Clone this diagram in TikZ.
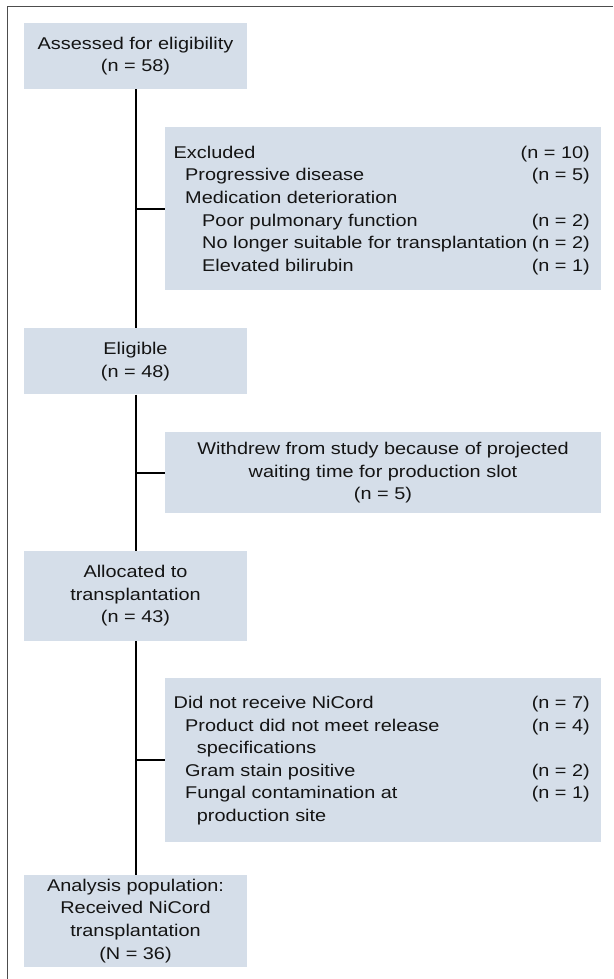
\documentclass[tikz,border=0pt]{standalone}
\usepackage{fontspec}
\setmainfont{Liberation Sans}[FakeStretch=1.17]
\definecolor{boxfill}{RGB}{213,222,233}
\definecolor{framegray}{RGB}{77,77,77}
\definecolor{txt}{RGB}{20,20,20}
\begin{document}
\begin{tikzpicture}[x=1pt,y=-1pt,
  every node/.style={text=txt},
  lbox/.style={fill=boxfill, inner sep=0pt, minimum width=223pt, align=center,
    font=\fontsize{17}{22.6}\selectfont},
  rbox/.style={fill=boxfill, inner sep=0pt, minimum width=436pt, align=center,
    font=\fontsize{17}{22.6}\selectfont},
  lt/.style={inner sep=0pt, anchor=base west, font=\fontsize{17}{22.6}\selectfont},
  rt/.style={inner sep=0pt, anchor=base east, font=\fontsize{17}{22.6}\selectfont},
  conn/.style={line width=2pt, black},
  frame/.style={line width=1.5pt, framegray}]
\useasboundingbox (0,0) rectangle (613,979);
% frame
\coordinate (fc) at (7.3,6.7);
\coordinate (fr) at (613,6.7);
\coordinate (fb) at (7.3,979);
\draw[frame] (fr) -- (fc) -- (fb);
% left column boxes
\node[lbox, minimum height=66.6pt] (a) at (135.5,56) {Assessed for eligibility\\(n = 58)};
\node[lbox, minimum height=66pt] (b) at (135.5,361.3) {Eligible\\(n = 48)};
\node[lbox, minimum height=89.7pt] (c) at (135.5,595.8) {Allocated to\\transplantation\\(n = 43)};
\node[lbox, minimum height=91.7pt] (d) at (135.5,920.8) {Analysis population:\\Received NiCord\\transplantation\\(N = 36)};
% right column boxes
\node[rbox, minimum height=163pt] (ex) at (383,208.8) {};
\node[rbox, minimum height=81pt] (wd) at (383,472.8) {Withdrew from study because of projected\\waiting time for production slot\\(n = 5)};
\node[rbox, minimum height=163.4pt] (nr) at (383,760) {};
% Excluded texts
\node[lt] (ex1) at (173.5,158.3) {Excluded};
\node[rt] (ex1n) at (590,158.3) {(n = 10)};
\node[lt] (ex2) at (185,180.9) {Progressive disease};
\node[rt] (ex2n) at (590,180.9) {(n = 5)};
\node[lt] (ex3) at (185,203.5) {Medication deterioration};
\node[lt] (ex4) at (202,226.1) {Poor pulmonary function};
\node[rt] (ex4n) at (590,226.1) {(n = 2)};
\node[lt] (ex5) at (202,248.7) {No longer suitable for transplantation};
\node[rt] (ex5n) at (590,248.7) {(n = 2)};
\node[lt] (ex6) at (202,271.3) {Elevated bilirubin};
\node[rt] (ex6n) at (590,271.3) {(n = 1)};
% NiCord texts
\node[lt] (nr1) at (173.5,708.5) {Did not receive NiCord};
\node[rt] (nr1n) at (590,708.5) {(n = 7)};
\node[lt] (nr2) at (185,731.1) {Product did not meet release};
\node[rt] (nr2n) at (590,731.1) {(n = 4)};
\node[lt] (nr3) at (196.7,753.7) {specifications};
\node[lt] (nr4) at (185,776.3) {Gram stain positive};
\node[rt] (nr4n) at (590,776.3) {(n = 2)};
\node[lt] (nr5) at (185,798.9) {Fungal contamination at};
\node[rt] (nr5n) at (590,798.9) {(n = 1)};
\node[lt] (nr6) at (196.7,821.5) {production site};
% trunk
\draw[conn] (a.south) -- (b.north);
\draw[conn] (b.south) -- (c.north);
\draw[conn] (c.south) -- (d.north);
% branches
\draw[conn] (ex.west -| a.south) -- (ex.west);
\draw[conn] (wd.west -| a.south) -- (wd.west);
\draw[conn] (nr.west -| a.south) -- (nr.west);
\end{tikzpicture}
\end{document}
